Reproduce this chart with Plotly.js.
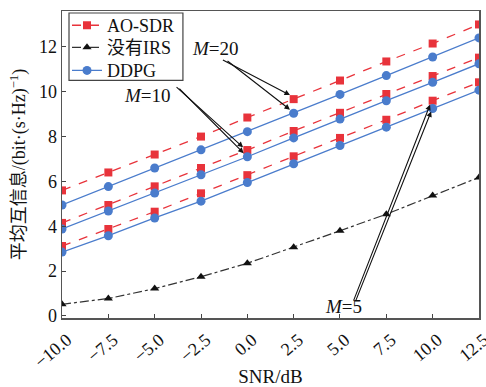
<!DOCTYPE html>
<html>
<head>
<meta charset="utf-8">
<script src="https://cdn.plot.ly/plotly-3.0.1.min.js"></script>
<style>html,body{margin:0;padding:0;background:#fff;}#chart{width:486px;height:387px;}</style>
</head>
<body>
<div id="chart"></div>
<script>
const snr = [-10, -7.5, -5, -2.5, 0, 2.5, 5, 7.5, 10, 12.5];
const aoM20 = [5.6, 6.4, 7.2, 8.0, 8.85, 9.67, 10.5, 11.35, 12.15, 13.0];
const ddpgM20 = [4.95, 5.77, 6.6, 7.41, 8.22, 9.04, 9.88, 10.72, 11.55, 12.4];
const aoM10 = [4.15, 4.95, 5.78, 6.6, 7.4, 8.25, 9.06, 9.9, 10.7, 11.52];
const ddpgM10 = [3.88, 4.68, 5.48, 6.3, 7.1, 7.94, 8.78, 9.6, 10.42, 11.25];
const aoM5 = [3.12, 3.88, 4.65, 5.47, 6.28, 7.12, 7.94, 8.75, 9.6, 10.42];
const ddpgM5 = [2.85, 3.58, 4.37, 5.12, 5.95, 6.79, 7.6, 8.42, 9.25, 10.07];
const noIRS = [0.52, 0.78, 1.22, 1.75, 2.35, 3.06, 3.8, 4.54, 5.37, 6.18];
const seriesNames = ["AO-SDR", "没有IRS", "DDPG"];

const FONT = "Liberation Serif, Times New Roman, Noto Sans CJK SC, serif";
const RED = "#e8333b", BLUE = "#4a7ccc", BLACK = "#111111";

function aoTrace(y, show) {
  return {x: snr, y: y, type: "scatter", mode: "lines+markers", name: seriesNames[0],
    legend: "legend", showlegend: show,
    line: {color: RED, width: 1.3, dash: "dash"},
    marker: {symbol: "square", size: 8, color: RED}};
}
function ddpgTrace(y, show) {
  return {x: snr, y: y, type: "scatter", mode: "lines+markers", name: seriesNames[2],
    legend: "legend3", showlegend: show,
    line: {color: BLUE, width: 1.3},
    marker: {symbol: "circle", size: 9, color: BLUE}};
}
const traces = [
  aoTrace(aoM20, true),
  {x: snr, y: noIRS, type: "scatter", mode: "lines+markers", name: seriesNames[1],
    legend: "legend2", line: {color: "#333333", width: 1.2, dash: "dashdot"},
    marker: {symbol: "triangle-up", size: 8, color: BLACK}},
  ddpgTrace(ddpgM20, true),
  aoTrace(aoM10, false), ddpgTrace(ddpgM10, false),
  aoTrace(aoM5, false), ddpgTrace(ddpgM5, false)
];

function arrow(x, y, ax, ay) {
  return {x: x, y: y, ax: ax, ay: ay, xref: "x", yref: "y", axref: "x", ayref: "y",
    text: "", showarrow: true, arrowhead: 2, arrowsize: 1, arrowwidth: 1.1, arrowcolor: "#111"};
}
function label(x, y, t) {
  return {x: x, y: y, xref: "x", yref: "y", text: t, showarrow: false,
    font: {family: FONT, size: 19, color: "#111"}};
}
function leg(yc) {
  return {x: 0.012, y: yc, xanchor: "left", yanchor: "middle", bgcolor: "rgba(0,0,0,0)",
    borderwidth: 0, font: {family: FONT, size: 18}, itemwidth: 30};
}

const layout = {
  width: 486, height: 387,
  margin: {l: 62, r: 7, t: 8, b: 69},
  paper_bgcolor: "#fff", plot_bgcolor: "#fff",
  font: {family: FONT, size: 18, color: "#111"},
  xaxis: {
    range: [-10.001, 12.501], tickvals: snr, tickformat: ".1f",
    tickangle: -40, ticks: "inside", ticklen: 4, tickcolor: "#444",
    ticklabeloverflow: "allow", ticklabelshift: 5, ticklabelstandoff: 3,
    showline: true, mirror: true, linecolor: "#555", linewidth: 1.5,
    showgrid: false, zeroline: false,
    tickfont: {family: FONT, size: 18},
    title: {text: "SNR/dB", font: {family: FONT, size: 19}, standoff: 0},
    automargin: false
  },
  yaxis: {
    range: [-0.09, 13.6], tickvals: [0, 2, 4, 6, 8, 10, 12],
    ticks: "inside", ticklen: 4, tickcolor: "#444",
    showline: true, mirror: true, linecolor: "#555", linewidth: 1.5,
    showgrid: false, zeroline: false,
    tickfont: {family: FONT, size: 18},
    title: {text: "平均互信息/(bit·(s·Hz)<sup>−1</sup>)", font: {family: FONT, size: 18}, standoff: 8},
    automargin: false
  },
  legend: leg(0.9526),
  legend2: leg(0.8806),
  legend3: leg(0.8055),
  shapes: [
    {type: "rect", xref: "paper", yref: "paper", x0: 0.0168, x1: 0.29, y0: 0.774, y1: 0.9935,
      line: {color: "#444", width: 1.2}, fillcolor: "rgba(255,255,255,1)", layer: "above"}
  ],
  annotations: [
    label(-1.7, 11.95, "<i>M</i>=20"),
    arrow(2.3, 9.85, -1.4, 11.45),
    arrow(2.3, 9.2, -1.15, 11.42),
    label(-5.4, 9.85, "<i>M</i>=10"),
    arrow(-0.23, 7.52, -3.9, 10.27),
    arrow(-0.2, 7.26, -3.75, 10.2),
    label(5.2, 0.42, "<i>M</i>=5"),
    arrow(9.86, 9.42, 5.7, 0.62),
    arrow(9.92, 9.12, 5.82, 0.62)
  ]
};

Plotly.newPlot("chart", traces, layout, {displayModeBar: false, staticPlot: true});
</script>
</body>
</html>
